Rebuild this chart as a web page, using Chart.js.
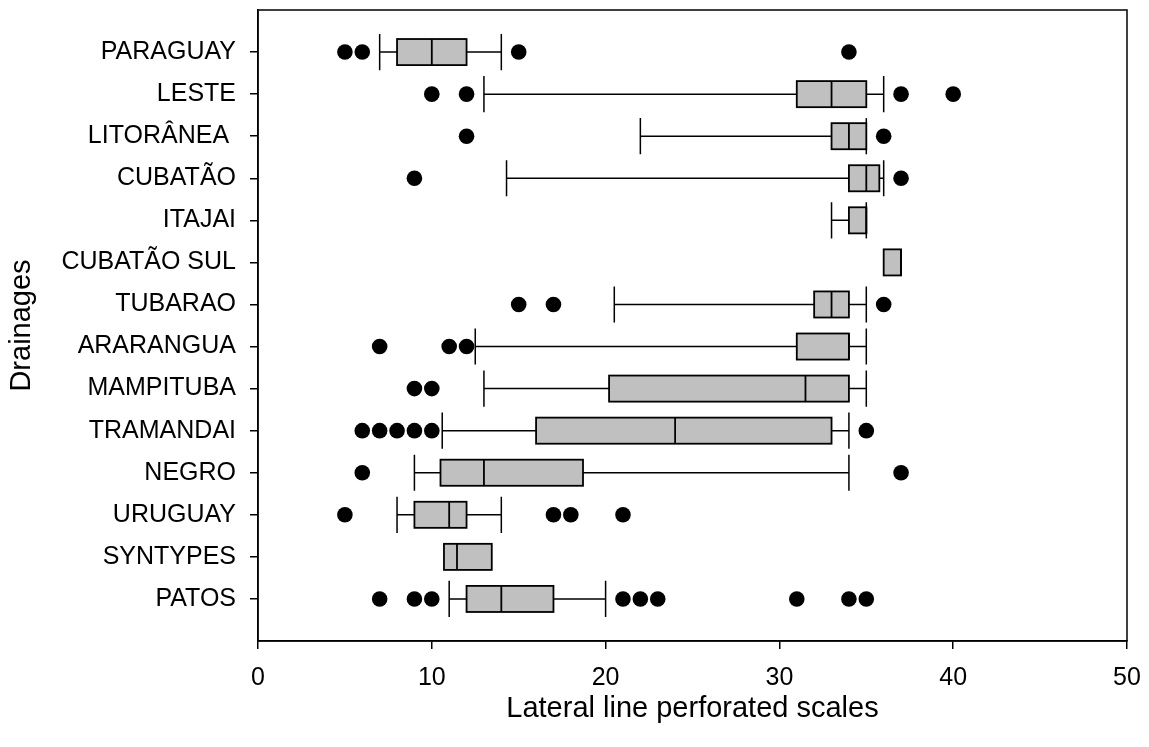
<!DOCTYPE html>
<html>
<head>
<meta charset="utf-8">
<title>Lateral line perforated scales by drainage</title>
<script src="https://cdn.jsdelivr.net/npm/chart.js@4.4.1/dist/chart.umd.min.js"></script>
<style>
  html, body { margin: 0; padding: 0; background: #fff; }
  #wrap { width: 1149px; height: 747px; }
</style>
</head>
<body>
<div id="wrap"><canvas id="boxChart" width="1149" height="747"></canvas></div>
<script>
// drainages, top to bottom
const categories = ['PARAGUAY', 'LESTE', 'LITORÂNEA ', 'CUBATÃO', 'ITAJAI', 'CUBATÃO SUL', 'TUBARAO',
    'ARARANGUA', 'MAMPITUBA', 'TRAMANDAI', 'NEGRO', 'URUGUAY', 'SYNTYPES', 'PATOS'];

// box plot statistics (null = no whisker drawn)
const whiskerLow  = [7,  13, 22, 14.3,  33, null, 20.5, 12.5, 13,   10.6, 9,    8,  null,  11];
const q1          = [8,  31, 33, 34,    34, 36,   32,   31,   20.2, 16,   10.5, 9,  10.7,  12];
const median      = [10, 33, 34, 35,    35, 37,   33,   34,   31.5, 24,   13,   11, 11.45, 14];
const q3          = [12, 35, 35, 35.75, 35, 37,   34,   34,   34,   33,   18.7, 12, 13.45, 17];
const whiskerHigh = [14, 36, 35, 36,    35, null, 35,   35,   35,   34,   34,   14, null,  20];

// outlying points per drainage
const outliers = [
    [5, 6, 15, 34],
    [10, 12, 37, 40],
    [12, 36],
    [9, 37],
    [],
    [],
    [15, 17, 36],
    [7, 11, 12],
    [9, 10],
    [6, 7, 8, 9, 10, 35],
    [6, 37],
    [5, 17, 18, 21],
    [],
    [7, 9, 10, 21, 22, 23, 31, 34, 35]
];

const xTicks = [0, 10, 20, 30, 40, 50];

const outlierPoints = [];
outliers.forEach((vals, i) => {
    vals.forEach(v => outlierPoints.push({ x: v, y: i + 1 }));
});

Chart.defaults.font.family = '"Liberation Sans", Arial, sans-serif';
Chart.defaults.color = '#000';

// draws boxes, medians and whiskers from the arrays above using the chart scales
const boxPlotPlugin = {
    id: 'boxPlot',
    beforeDatasetsDraw(chart) {
        const { ctx, scales: { x, y } } = chart;
        const band = Math.abs(y.getPixelForValue(1) - y.getPixelForValue(0));
        const boxH = band * 0.62;
        const capH = band * 0.86;
        ctx.save();
        ctx.strokeStyle = '#000';
        categories.forEach((c, i) => {
            const cy = y.getPixelForValue(i + 1);
            const x1 = x.getPixelForValue(q1[i]);
            const x3 = x.getPixelForValue(q3[i]);
            ctx.lineWidth = 1.5;
            // whiskers
            if (whiskerLow[i] !== null) {
                const wl = x.getPixelForValue(whiskerLow[i]);
                ctx.beginPath();
                ctx.moveTo(wl, cy); ctx.lineTo(x1, cy);
                ctx.moveTo(wl, cy - capH / 2); ctx.lineTo(wl, cy + capH / 2);
                ctx.stroke();
            }
            if (whiskerHigh[i] !== null) {
                const wh = x.getPixelForValue(whiskerHigh[i]);
                ctx.beginPath();
                ctx.moveTo(x3, cy); ctx.lineTo(wh, cy);
                ctx.moveTo(wh, cy - capH / 2); ctx.lineTo(wh, cy + capH / 2);
                ctx.stroke();
            }
            // box
            ctx.lineWidth = 1.8;
            ctx.fillStyle = '#c0c0c0';
            ctx.fillRect(x1, cy - boxH / 2, x3 - x1, boxH);
            ctx.strokeRect(x1, cy - boxH / 2, x3 - x1, boxH);
            // median
            const xm = x.getPixelForValue(median[i]);
            ctx.beginPath();
            ctx.moveTo(xm, cy - boxH / 2); ctx.lineTo(xm, cy + boxH / 2);
            ctx.stroke();
        });
        ctx.restore();
    },
    afterDraw(chart) {
        const { ctx, chartArea: a } = chart;
        ctx.save();
        ctx.strokeStyle = '#000';
        ctx.lineWidth = 1.5;
        ctx.strokeRect(a.left, a.top, a.right - a.left, a.bottom - a.top);
        ctx.restore();
    }
};

new Chart(document.getElementById('boxChart'), {
    type: 'scatter',
    data: {
        datasets: [{
            label: 'Outliers',
            data: outlierPoints,
            backgroundColor: '#000',
            borderColor: '#000',
            borderWidth: 0,
            pointRadius: 7.8,
            pointHoverRadius: 7.8
        }]
    },
    options: {
        responsive: false,
        animation: false,
        clip: false,
        layout: { padding: { left: 0, right: 22, top: 10, bottom: 0 } },
        plugins: {
            legend: { display: false },
            tooltip: { enabled: false }
        },
        scales: {
            x: {
                type: 'linear',
                min: 0,
                max: 50,
                afterBuildTicks: axis => { axis.ticks = xTicks.map(v => ({ value: v })); },
                afterFit: scale => {
                    scale.height = 106;
                    scale.paddingLeft = 0;
                    scale.paddingRight = 0;
                },
                grid: { drawOnChartArea: false, drawTicks: true, tickLength: 8, color: '#000', lineWidth: 1.5 },
                border: { display: true, color: '#000', width: 1.5 },
                ticks: { font: { size: 25 }, padding: 14, maxRotation: 0 },
                title: {
                    display: true,
                    text: 'Lateral line perforated scales',
                    font: { size: 29 },
                    padding: { top: 0, bottom: 21 }
                }
            },
            y: {
                type: 'linear',
                reverse: true,
                min: 0,
                max: 15,
                afterBuildTicks: axis => { axis.ticks = categories.map((c, i) => ({ value: i + 1 })); },
                afterFit: scale => {
                    scale.width = 258;
                    scale.paddingTop = 0;
                    scale.paddingBottom = 0;
                },
                grid: { drawOnChartArea: false, drawTicks: true, tickLength: 8, color: '#000', lineWidth: 1.5 },
                border: { display: true, color: '#000', width: 1.5 },
                ticks: {
                    autoSkip: false,
                    font: { size: 25 },
                    padding: 14,
                    callback: v => categories[v - 1] || ''
                },
                title: {
                    display: true,
                    text: 'Drainages',
                    font: { size: 29 },
                    padding: { top: 5, bottom: 0 }
                }
            }
        }
    },
    plugins: [boxPlotPlugin]
});
</script>
</body>
</html>
